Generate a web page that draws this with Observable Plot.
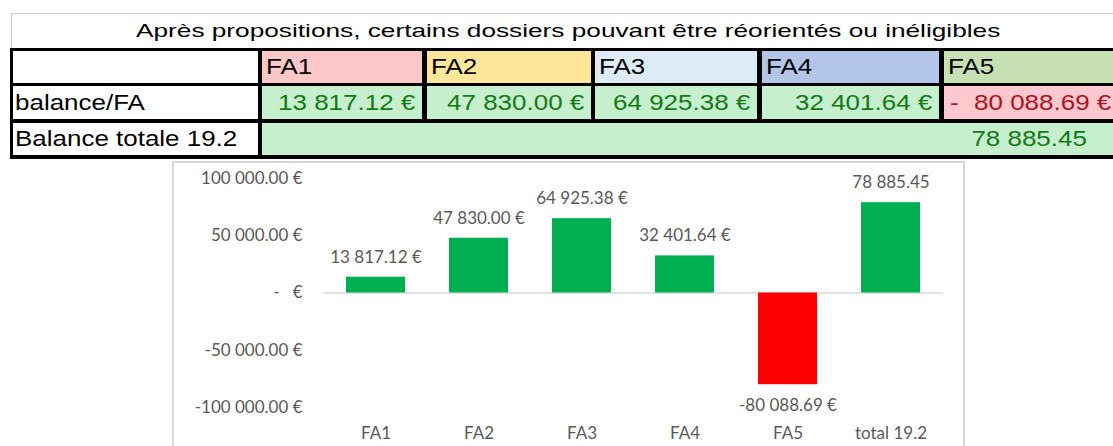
<!DOCTYPE html>
<html>
<head>
<meta charset="utf-8">
<script src="https://cdn.jsdelivr.net/npm/d3@7"></script>
<script src="https://cdn.jsdelivr.net/npm/@observablehq/plot@0.6"></script>
<style>
  html, body { margin: 0; padding: 0; background: #fff; overflow: hidden; width: 1113px; height: 446px; }
  #page { position: relative; width: 1113px; height: 446px; overflow: hidden; font-family: "Liberation Sans", Arial, sans-serif; }
  .cell { position: absolute; box-sizing: border-box; display: flex; align-items: center; white-space: nowrap; font-size: 22px; color: #000; overflow: visible; }
  .cell span { display: inline-block; }
  #grid { position: absolute; background: #000; }
  #chartbox { position: absolute; left: 172px; top: 161px; width: 789px; height: 300px; border-left: 2px solid #d6d6d6; border-right: 2px solid #d6d6d6; border-top: 2px solid #d6d6d6; }
  #chartbox svg { display: block; overflow: visible; }
</style>
</head>
<body>
<div id="page">
  <div id="grid"></div>
  <div id="chartbox"></div>
</div>
<script>
// ---- data ----
const title = "Après propositions, certains dossiers pouvant être réorientés ou inéligibles";
const tableHeaders = ["FA1", "FA2", "FA3", "FA4", "FA5"];
const rowLabels = ["balance/FA", "Balance totale 19.2"];
const tableValues = ["13 817.12 €", "47 830.00 €", "64 925.38 €", "32 401.64 €", "80 088.69 €"];
const tableSigns = ["", "", "", "", "-"];
const totalText = "78 885.45";

const categories = ["FA1", "FA2", "FA3", "FA4", "FA5", "total 19.2"];
const values = [13817.12, 47830.00, 64925.38, 32401.64, -80088.69, 78885.45];
const valueLabels = ["13 817.12 €", "47 830.00 €", "64 925.38 €", "32 401.64 €", "-80 088.69 €", "78 885.45"];
const tickValues = [100000, 50000, 0, -50000, -100000];
const tickLabels = ["100 000.00 €", "50 000.00 €", "-\u00a0\u00a0\u00a0€", "-50 000.00 €", "-100 000.00 €"];

// ---- table layout ----
const page = document.getElementById("page");
const headerColors = ["#fdc7c7", "#ffe699", "#ddebf7", "#b4c6e7", "#c6e0b4"];
const goodBg = "#c6efce", goodFg = "#137a13";
const badBg = "#ffc7ce", badFg = "#b0101a";
const cols = [[13, 258], [262, 422], [427, 591], [595, 757], [762, 939], [944, 1118]];
const rows = [[51, 83], [86, 119], [123, 155]];
const SX = 1.18;

const grid = document.getElementById("grid");
Object.assign(grid.style, { left: "10px", top: "48px", width: "1111px", height: "111px" });

function makeCell(x0, x1, y0, y1, bg, justify) {
  const c = document.createElement("div");
  c.className = "cell";
  Object.assign(c.style, {
    left: x0 + "px", top: y0 + "px", width: (x1 - x0) + "px", height: (y1 - y0) + "px",
    background: bg, justifyContent: justify
  });
  page.appendChild(c);
  return c;
}
function makeText(parent, txt, origin, color, scale) {
  const s = document.createElement("span");
  s.textContent = txt;
  s.style.transform = `scaleX(${scale || SX})`;
  s.style.transformOrigin = origin;
  if (color) s.style.color = color;
  parent.appendChild(s);
  return s;
}

// title row
const tc = makeCell(11, 1125, 13, 48, "#fff", "center");
Object.assign(tc.style, { borderTop: "1px solid #c8c8c8", borderLeft: "1px solid #c8c8c8", fontSize: "19px" });
makeText(tc, title, "center", "#000", 1.38);

// header row
makeCell(cols[0][0], cols[0][1], rows[0][0], rows[0][1], "#fff", "flex-start");
tableHeaders.forEach((h, i) => {
  const c = makeCell(cols[i + 1][0], cols[i + 1][1], rows[0][0], rows[0][1], headerColors[i], "flex-start");
  c.style.paddingLeft = "4px";
  makeText(c, h, "left");
});

// balance/FA row
const l1 = makeCell(cols[0][0], cols[0][1], rows[1][0], rows[1][1], "#fff", "flex-start");
l1.style.paddingLeft = "2px";
makeText(l1, rowLabels[0], "left");
tableValues.forEach((v, i) => {
  const neg = tableSigns[i] === "-";
  const c = makeCell(cols[i + 1][0], cols[i + 1][1], rows[1][0], rows[1][1], neg ? badBg : goodBg, neg ? "space-between" : "flex-end");
  c.style.paddingRight = "7px";
  if (neg) {
    c.style.paddingLeft = "6px";
    makeText(c, tableSigns[i], "left", badFg);
    makeText(c, v, "right", badFg);
  } else {
    makeText(c, v, "right", goodFg);
  }
});

// total row
const l2 = makeCell(cols[0][0], cols[0][1], rows[2][0], rows[2][1], "#fff", "flex-start");
l2.style.paddingLeft = "2px";
makeText(l2, rowLabels[1], "left");
const tcell = makeCell(cols[1][0], cols[5][1], rows[2][0], rows[2][1], goodBg, "flex-end");
tcell.style.paddingRight = "31px";
makeText(tcell, totalText, "right", goodFg);

// ---- chart ----
const data = categories.map((c, i) => ({ cat: c, value: values[i], label: valueLabels[i] }));
const pos = data.filter(d => d.value >= 0);
const neg = data.filter(d => d.value < 0);

const chart = Plot.plot({
  width: 789,
  height: 283,
  marginLeft: 149,
  marginRight: 20,
  marginTop: 15,
  marginBottom: 39,
  style: { fontFamily: "Lato, 'Open Sans', sans-serif", fontSize: "17px", color: "#595959", background: "transparent", overflow: "visible" },
  x: { domain: categories, paddingInner: 0.43, paddingOuter: 0.215, axis: null },
  y: { domain: [-100000, 100000], axis: null },
  marks: [
    Plot.ruleY([0], { stroke: "#d9d9d9", strokeWidth: 1.5 }),
    Plot.barY(pos, { x: "cat", y: "value", fill: "#00b050" }),
    Plot.barY(neg, { x: "cat", y: "value", fill: "#ff0000" }),
    Plot.text(pos, { x: "cat", y: "value", text: "label", dy: -20 }),
    Plot.text(neg, { x: "cat", y: "value", text: "label", dy: 21 }),
    Plot.axisY(tickValues, { tickSize: 0, tickPadding: 21, tickFormat: d => tickLabels[tickValues.indexOf(d)], label: null }),
    Plot.axisX({ tickSize: 0, tickPadding: 19, label: null })
  ]
});
document.getElementById("chartbox").appendChild(chart);
</script>
</body>
</html>
